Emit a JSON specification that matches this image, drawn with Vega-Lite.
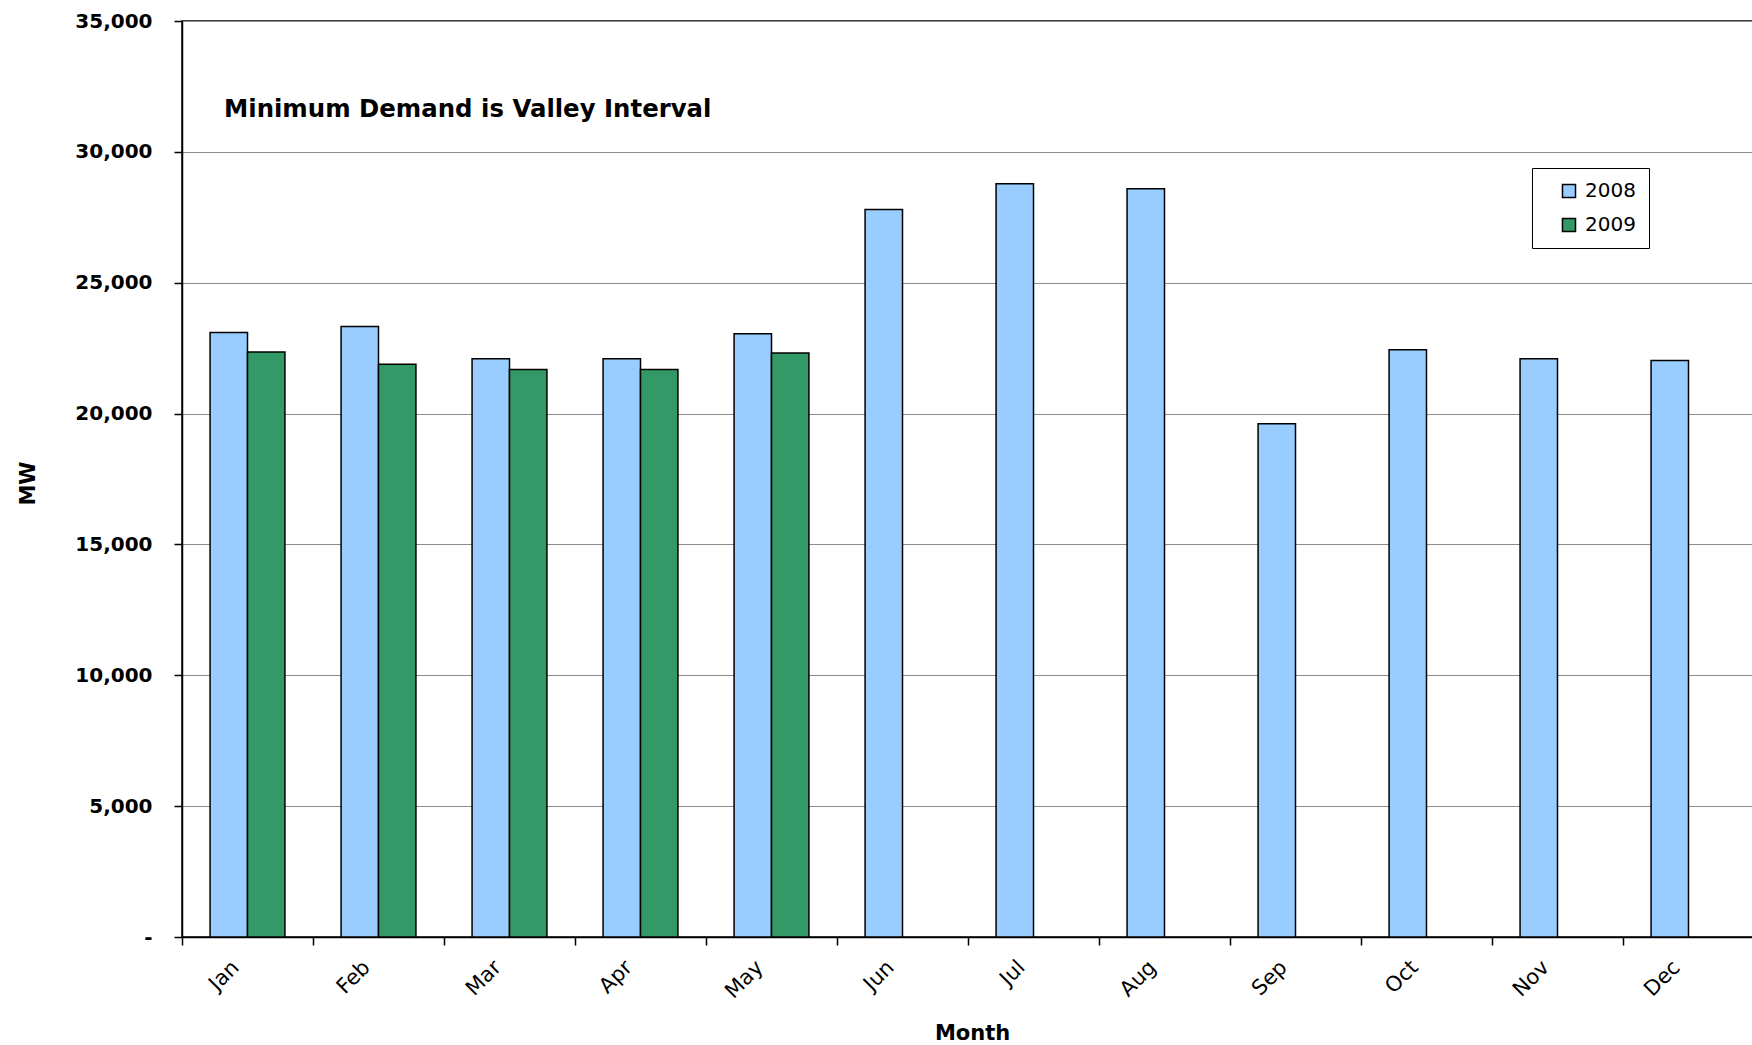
{
  "$schema": "https://vega.github.io/schema/vega-lite/v6.json",
  "width": 1572,
  "height": 916,
  "autosize": {"type": "none"},
  "padding": {"left": 182, "top": 21, "right": 0, "bottom": 108},
  "background": "white",
  "config": {
    "view": {"stroke": "black", "strokeWidth": 1.5},
    "font": "DejaVu Sans"
  },
  "title": {
    "text": "Minimum Demand is Valley Interval",
    "anchor": "start",
    "frame": "group",
    "orient": "top",
    "offset": 0,
    "dx": 42,
    "dy": 123,
    "baseline": "middle",
    "font": "DejaVu Sans",
    "fontSize": 24.4,
    "fontWeight": "bold",
    "color": "black"
  },
  "data": {
    "values": [
      {"Month": "Jan", "Year": "2008", "MW": 23100},
      {"Month": "Jan", "Year": "2009", "MW": 22350},
      {"Month": "Feb", "Year": "2008", "MW": 23330},
      {"Month": "Feb", "Year": "2009", "MW": 21880},
      {"Month": "Mar", "Year": "2008", "MW": 22090},
      {"Month": "Mar", "Year": "2009", "MW": 21680},
      {"Month": "Apr", "Year": "2008", "MW": 22090},
      {"Month": "Apr", "Year": "2009", "MW": 21680},
      {"Month": "May", "Year": "2008", "MW": 23050},
      {"Month": "May", "Year": "2009", "MW": 22310},
      {"Month": "Jun", "Year": "2008", "MW": 27800},
      {"Month": "Jul", "Year": "2008", "MW": 28780},
      {"Month": "Aug", "Year": "2008", "MW": 28590},
      {"Month": "Sep", "Year": "2008", "MW": 19610},
      {"Month": "Oct", "Year": "2008", "MW": 22440},
      {"Month": "Nov", "Year": "2008", "MW": 22090},
      {"Month": "Dec", "Year": "2008", "MW": 22030}
    ]
  },
  "mark": {"type": "bar", "stroke": "black", "strokeWidth": 1.5},
  "encoding": {
    "x": {
      "field": "Month",
      "type": "nominal",
      "sort": ["Jan", "Feb", "Mar", "Apr", "May", "Jun", "Jul", "Aug", "Sep", "Oct", "Nov", "Dec"],
      "scale": {"paddingInner": 0, "paddingOuter": 0},
      "axis": {
        "title": "Month",
        "titleFont": "DejaVu Sans",
        "titleFontSize": 21,
        "titleFontWeight": "bold",
        "titleColor": "black",
        "titleX": 790,
        "titleY": 96,
        "titleBaseline": "middle",
        "titleAlign": "center",
        "tickBand": "extent",
        "tickSize": 8,
        "tickColor": "black",
        "tickWidth": 1.5,
        "domainColor": "black",
        "domainWidth": 1.5,
        "grid": false,
        "labelAngle": -45,
        "labelAlign": "right",
        "labelBaseline": "middle",
        "labelPadding": 19,
        "labelOffset": -12,
        "labelFont": "DejaVu Sans",
        "labelFontSize": 21,
        "labelColor": "black"
      }
    },
    "xOffset": {
      "field": "Year",
      "type": "nominal",
      "scale": {"paddingInner": 0, "paddingOuter": 0.75}
    },
    "y": {
      "field": "MW",
      "type": "quantitative",
      "scale": {"domain": [0, 35000], "nice": false},
      "axis": {
        "title": "MW",
        "titleFont": "DejaVu Sans",
        "titleFontSize": 21,
        "titleFontWeight": "bold",
        "titleColor": "black",
        "titleAngle": -90,
        "titleX": -154,
        "titleY": 462,
        "titleAlign": "center",
        "titleBaseline": "middle",
        "values": [0, 5000, 10000, 15000, 20000, 25000, 30000, 35000],
        "labelExpr": "datum.value == 0 ? '-' : format(datum.value, ',')",
        "labelFont": "DejaVu Sans",
        "labelFontSize": 20,
        "labelFontWeight": "bold",
        "labelColor": "black",
        "labelPadding": 22,
        "tickSize": 8,
        "tickColor": "black",
        "tickWidth": 1.5,
        "domainColor": "black",
        "domainWidth": 1.5,
        "grid": true,
        "gridColor": "#8c8c8c",
        "gridWidth": 1.2
      }
    },
    "color": {
      "field": "Year",
      "type": "nominal",
      "scale": {"domain": ["2008", "2009"], "range": ["#99CCFF", "#339966"]},
      "legend": {
        "title": null,
        "orient": "none",
        "legendX": 1350,
        "legendY": 147,
        "strokeColor": "black",
        "fillColor": "white",
        "padding": 13,
        "symbolOffset": 14,
        "symbolType": "square",
        "symbolSize": 170,
        "symbolStrokeColor": "black",
        "symbolStrokeWidth": 1.5,
        "rowPadding": 14,
        "labelFont": "DejaVu Sans",
        "labelFontSize": 20,
        "labelColor": "black",
        "labelOffset": 6
      }
    }
  }
}
